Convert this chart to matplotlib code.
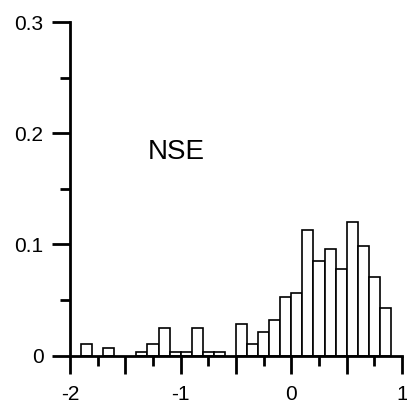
import matplotlib
matplotlib.use('Agg')
import matplotlib.pyplot as plt
import numpy as np
from matplotlib.ticker import MultipleLocator, FixedLocator, FixedFormatter

plt.rcParams['font.family'] = ['Liberation Sans', 'DejaVu Sans']
plt.rcParams['axes.unicode_minus'] = False

# histogram of NSE, bin width 0.1 (left edges), relative frequency
bin_left = [-1.9, -1.7, -1.4, -1.3, -1.2, -1.1, -1.0, -0.9, -0.8, -0.7,
            -0.5, -0.4, -0.3, -0.2, -0.1, 0.0, 0.1, 0.2, 0.3, 0.4,
            0.5, 0.6, 0.7, 0.8]
freq = [0.0106, 0.0071, 0.0035, 0.0106, 0.0247, 0.0035, 0.0035, 0.0247, 0.0035, 0.0035,
        0.0283, 0.0106, 0.0212, 0.0318, 0.0530, 0.0565, 0.1131, 0.0848, 0.0954, 0.0777,
        0.1201, 0.0989, 0.0707, 0.0424]
bin_width = 0.1

x_ticks = [-2, -1.5, -1, -0.5, 0, 0.5, 1]
x_labels = ['-2', '', '-1', '', '0', '', '1']
y_ticks = [0, 0.1, 0.2, 0.3]
y_labels = ['0', '0.1', '0.2', '0.3']

fig = plt.figure(figsize=(4.07, 4.03), dpi=100)
ax = fig.add_axes([70/407, (403-355.5)/403, 332/407, 333.5/403])

ax.bar(bin_left, freq, width=bin_width, align='edge',
       facecolor='white', edgecolor='black', linewidth=1.2)

ax.set_xlim(-2, 1)
ax.set_ylim(0, 0.3)

ax.xaxis.set_major_locator(FixedLocator(x_ticks))
ax.xaxis.set_major_formatter(FixedFormatter(x_labels))
ax.xaxis.set_minor_locator(FixedLocator([-1.75, -1.25, -0.75, -0.25, 0.25, 0.75]))
ax.yaxis.set_major_locator(FixedLocator(y_ticks))
ax.yaxis.set_major_formatter(FixedFormatter(y_labels))
ax.yaxis.set_minor_locator(MultipleLocator(0.05))

for side in ['top', 'right']:
    ax.spines[side].set_visible(False)
for side in ['left', 'bottom']:
    ax.spines[side].set_linewidth(2)

ax.tick_params(which='major', direction='out', length=13, width=2, labelsize=15, pad=6)
ax.tick_params(axis='x', which='major', pad=8)
ax.tick_params(which='minor', direction='out', length=7, width=2)

ax.text(-1.295, 0.183, 'NSE', fontsize=20, ha='left', va='center')

fig.savefig('out.png', dpi=100)
